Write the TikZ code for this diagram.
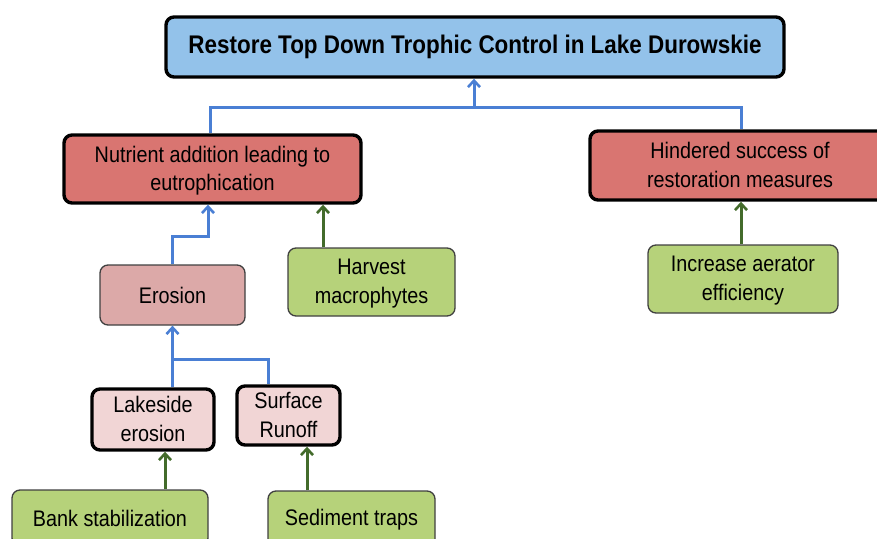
\documentclass[tikz,border=0pt]{standalone}
\usepackage{fontspec}
\setmainfont{Liberation Sans}[FakeStretch=0.88]
\usetikzlibrary{arrows.meta}
\definecolor{goalblue}{HTML}{93C2EA}
\definecolor{probred}{HTML}{D97571}
\definecolor{causepink}{HTML}{DCA9A8}
\definecolor{subpink}{HTML}{F1D5D5}
\definecolor{actgreen}{HTML}{B6D27A}
\definecolor{linkblue}{HTML}{4A7FD4}
\definecolor{linkgreen}{HTML}{436B2B}
\tikzset{
  box/.style={rectangle, rounded corners=8pt, align=center, inner sep=0pt,
    font=\fontsize{22.5}{28.5}\selectfont, text=black},
  twoline/.style={text depth=1pt},
  heavy/.style={box, draw=black, line width=3.4pt},
  light/.style={box, draw=black!75, line width=1.3pt},
  goal/.style={heavy, fill=goalblue, font=\fontsize{25.5}{28}\selectfont\bfseries},
  problem/.style={heavy, fill=probred},
  cause/.style={light, fill=causepink},
  subcause/.style={heavy, fill=subpink},
  action/.style={light, fill=actgreen},
  tip/.style={-{Straight Barb[length=6.5pt,width=12pt,line width=2.6pt]}},
  bluelink/.style={draw=linkblue, line width=3pt},
  greenlink/.style={draw=linkgreen, line width=3pt, tip},
}
\begin{document}
\begin{tikzpicture}[x=1pt,y=-1pt]
\useasboundingbox (0,0) rectangle (877,538);
\clip (0,0) rectangle (877,538);

% goal and problem boxes
\node[goal, minimum width=618pt, minimum height=60pt] (goal) at (475,47)
  {Restore Top Down Trophic Control in Lake Durowskie};
\node[problem, twoline, minimum width=297pt, minimum height=68pt] (nutrient) at (212.5,169)
  {Nutrient addition leading to\\eutrophication};
\node[problem, twoline, minimum width=300pt, minimum height=69pt] (hindered) at (740,165.5)
  {Hindered success of\\restoration measures};

% causes
\node[cause, minimum width=145pt, minimum height=60pt] (erosion) at (172.5,295) {Erosion};
\node[subcause, twoline, minimum width=122pt, minimum height=61pt] (lakeside) at (153,419.5)
  {Lakeside\\erosion};
\node[subcause, twoline, minimum width=103pt, minimum height=59pt] (runoff) at (288.5,415.5)
  {Surface\\Runoff};

% actions
\node[action, twoline, minimum width=167pt, minimum height=68pt] (harvest) at (371.5,282)
  {Harvest\\macrophytes};
\node[action, twoline, minimum width=190pt, minimum height=68pt] (aerator) at (743,279)
  {Increase aerator\\efficiency};
\node[action, minimum width=196pt, minimum height=56pt] (bank) at (110,518)
  {Bank stabilization};
\node[action, minimum width=167pt, minimum height=58pt] (traps) at (351.5,520)
  {Sediment traps};

% problems feed the goal
\coordinate (jt) at (474,107);
\draw[bluelink] ([xshift=-2.5pt]nutrient.north) |- (jt) -| ([xshift=1pt]hindered.north);
\draw[bluelink, tip] (jt) -- (jt |- goal.south);

% erosion feeds nutrient addition
\coordinate (ne) at ([xshift=-4.5pt]nutrient.south);
\draw[bluelink, tip] (erosion.north) -- ++(0,-28) -| (ne);

% sub-causes feed erosion
\coordinate (je) at (erosion.south |- 0,359);
\coordinate (ls) at (lakeside.north -| je);
\coordinate (rs) at ([xshift=-20.5pt]runoff.north);
\draw[bluelink, tip] (ls) -- (erosion.south);
\draw[bluelink] (rs) |- (je);

% actions act on the problems
\coordinate (hv) at ([xshift=-48.5pt]harvest.north);
\draw[greenlink] (hv) -- (hv |- nutrient.south);
\coordinate (ae) at ([xshift=-2pt]aerator.north);
\draw[greenlink] (ae) -- (ae |- hindered.south);
\coordinate (bk) at ([xshift=55pt]bank.north);
\draw[greenlink] (bk) -- (bk |- lakeside.south);
\coordinate (tr) at ([xshift=-44.5pt]traps.north);
\draw[greenlink] (tr) -- (tr |- runoff.south);
\end{tikzpicture}
\end{document}
